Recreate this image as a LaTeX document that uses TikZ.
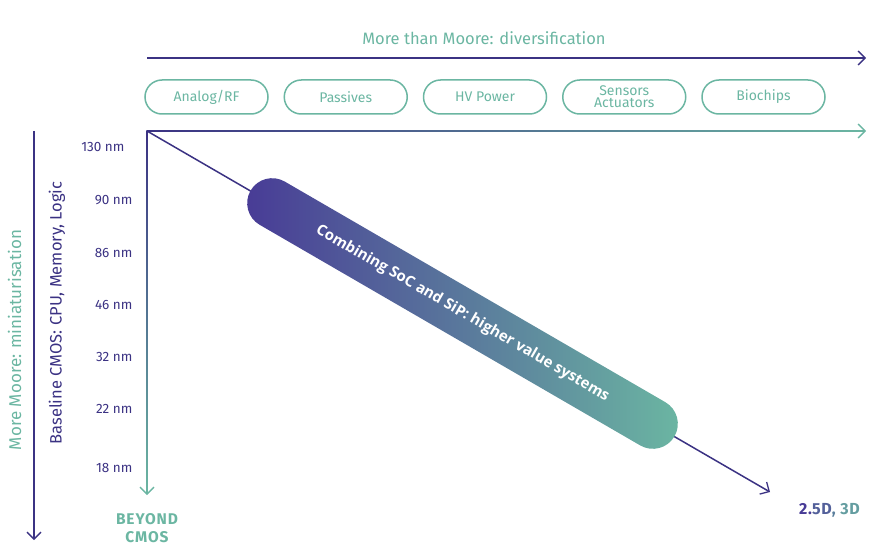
\documentclass[tikz,border=0pt]{standalone}
\usepackage{fontspec}
\setmainfont{Fira Sans}
\newfontfamily\barfont{Open Sans}
\usetikzlibrary{arrows.meta,shapes.misc,calc}
\definecolor{mmpurple}{HTML}{3B3283}
\definecolor{mmteal}{HTML}{6BB6A2}
\definecolor{mmbar}{HTML}{483B96}
\tikzset{
barb/.style={-{Straight Barb[length=7pt,width=14pt,line width=1.3pt]}},
axis/.style={line width=1.5pt, mmpurple, barb},
pill/.style={draw=mmteal, line width=1.5pt, rounded rectangle, minimum width=123pt,
  minimum height=34pt, text=mmteal, align=center, inner sep=0pt,
  font=\fontsize{14}{13}\selectfont},
nm/.style={anchor=east, text=mmpurple, font=\fontsize{13.5}{14}\selectfont},
socbar/.style={rounded rectangle, minimum width=490pt, minimum height=50pt,
  left color=mmbar, right color=mmteal, text=white, inner sep=0pt,
  font=\barfont\bfseries\fontsize{15}{16}\selectfont}
}
\begin{document}
\begin{tikzpicture}[x=1pt,y=-1pt]
  \useasboundingbox (0,0) rectangle (870,559);
  \coordinate (O) at (147,131);
  % top: more than moore
  \node[text=mmteal, font=\fontsize{16.5}{16}\selectfont] (mtm) at (484,38) {More than Moore: diversification};
  \coordinate (topL) at (147,58);
  \coordinate (topR) at (866,58);
  \draw[axis] (topL) -- (topR);
  \foreach \i/\name/\txt in {0/analog/{Analog/RF},1/passives/{Passives},2/hvpower/{HV Power},
      3/sensors/{\raisebox{-2pt}{\shortstack{Sensors\\[-1pt]Actuators}}},4/biochips/{Biochips}}
    \node[pill] (\name) at (206.5+139.25*\i,97) {\txt};
  % gradient axes
  \coordinate (hend) at (866,131);
  \coordinate (vend) at (147,495);
  \shade[left color=mmpurple, right color=mmteal] ($(O)+(0,-0.75)$) rectangle ($(hend)+(-1.5,0.75)$);
  \draw[line width=1.5pt, mmteal, barb] ($(hend)+(-2,0)$) -- (hend);
  \shade[top color=mmpurple, bottom color=mmteal] ($(O)+(-0.75,0)$) rectangle ($(vend)+(0.75,-1.5)$);
  \draw[line width=1.5pt, mmteal, barb] ($(vend)+(0,-2)$) -- (vend);
  % diagonal
  \coordinate (dend) at (770,492);
  \draw[axis] (O) -- (dend);
  \node[socbar, rotate=-30.1] (soc) at (462.5,313.5) {Combining SoC and SiP: higher value systems};
  % node labels
  \node[nm] (n130) at (128,147) {130 nm};
  \foreach \y/\v in {200/90,253/86,305/46,357/32,409/22,468/18}
    \node[nm] (n\v) at (136,\y) {\v\ nm};
  % left axis
  \coordinate (lTop) at (34,131);
  \coordinate (lBot) at (34,540);
  \draw[axis] (lTop) -- (lBot);
  \node[rotate=90, text=mmteal, font=\fontsize{17}{18}\selectfont] (mm) at (14.5,340) {More Moore: miniaturisation};
  \node[rotate=90, text=mmpurple, font=\fontsize{16.5}{17}\selectfont] (cmos) at (57,313) {Baseline CMOS: CPU, Memory, Logic};
  \node[text=mmteal, align=center, font=\bfseries\fontsize{15.5}{18}\selectfont] (beyond) at (147,528)
    {\addfontfeature{LetterSpace=6}BEYOND\\\addfontfeature{LetterSpace=6}CMOS};
  \node[font=\bfseries\fontsize{16}{16}\selectfont] (dd) at (829.5,510.5)
    {\addfontfeature{LetterSpace=5}\textcolor{mmbar}{2.}\textcolor{mmbar!70!mmteal}{5D}\textcolor{mmbar!45!mmteal}{,} \textcolor{mmbar!20!mmteal}{3D}};
\end{tikzpicture}
\end{document}
